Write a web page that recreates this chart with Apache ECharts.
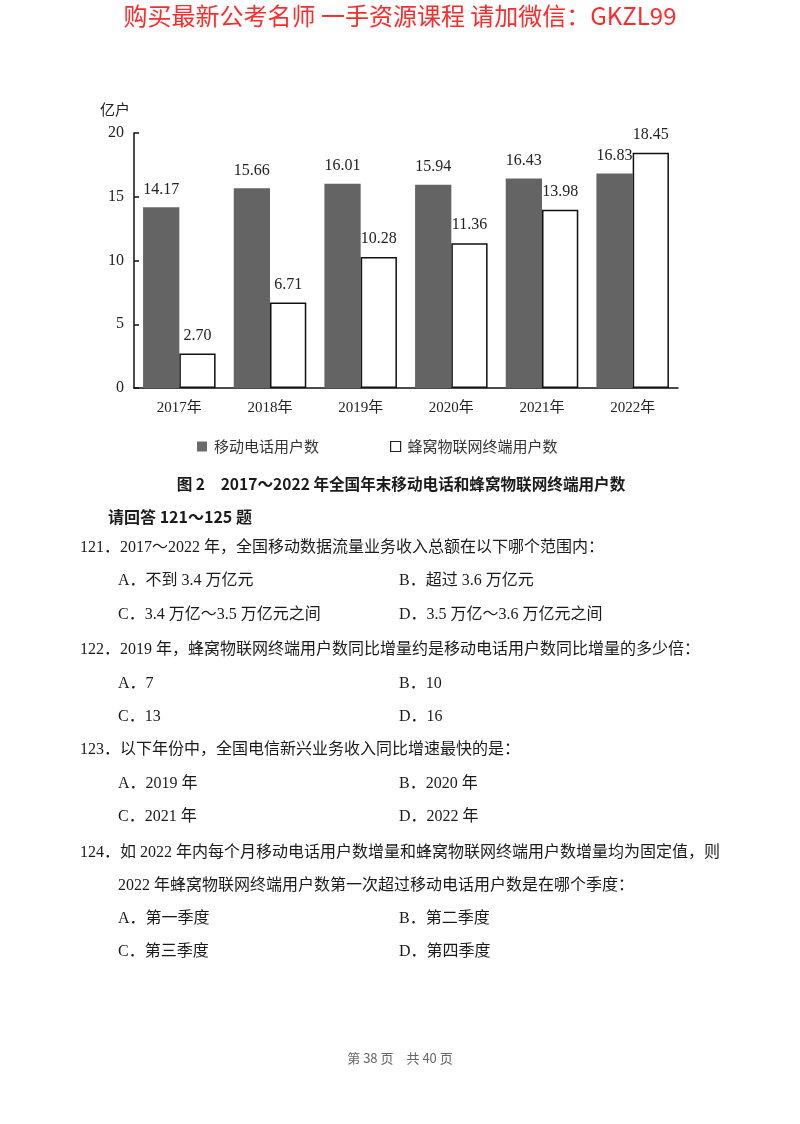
<!DOCTYPE html>
<html>
<head>
<meta charset="utf-8">
<script src="https://cdn.jsdelivr.net/npm/echarts@6/dist/echarts.min.js"></script>
<style>
  html, body { margin: 0; padding: 0; background: #fff; }
  #page { position: relative; width: 800px; height: 1124px; overflow: hidden; background: #fff; }
  #chart { position: absolute; left: 0; top: 0; width: 800px; height: 1124px; }
  .t { position: absolute; white-space: nowrap; font-family: "Liberation Serif", "Noto Sans CJK SC", serif; font-size: 16px; line-height: 20px; color: #1a1a1a; z-index: 2; }
  .b { font-family: "Noto Sans CJK SC", sans-serif; font-weight: bold; }
  .cap { font-size: 15.6px; }
  .wm { font-family: "Noto Sans CJK SC", sans-serif; font-size: 24px; line-height: 30px; color: #ff2a2a; }
  .ft { font-family: "Noto Sans CJK SC", sans-serif; font-size: 13px; line-height: 16px; color: #666; }
</style>
</head>
<body>
<div id="page">
  <div id="chart"></div>
  <div class="t wm" style="left:0;width:800px;text-align:center;top:0px;">购买最新公考名师 一手资源课程 请加微信：GKZL99</div>

  <div class="t b cap" style="left:0;width:802px;text-align:center;top:473px;">图 2　2017～2022 年全国年末移动电话和蜂窝物联网终端用户数</div>
  <div class="t b" style="left:108px;top:506px;">请回答 121～125 题</div>

  <div class="t" style="left:80px;top:537px;">121．2017～2022 年，全国移动数据流量业务收入总额在以下哪个范围内：</div>
  <div class="t" style="left:118px;top:570px;">A．不到 3.4 万亿元</div>
  <div class="t" style="left:399px;top:570px;">B．超过 3.6 万亿元</div>
  <div class="t" style="left:118px;top:604px;">C．3.4 万亿～3.5 万亿元之间</div>
  <div class="t" style="left:399px;top:604px;">D．3.5 万亿～3.6 万亿元之间</div>

  <div class="t" style="left:80px;top:639px;">122．2019 年，蜂窝物联网终端用户数同比增量约是移动电话用户数同比增量的多少倍：</div>
  <div class="t" style="left:118px;top:673px;">A．7</div>
  <div class="t" style="left:399px;top:673px;">B．10</div>
  <div class="t" style="left:118px;top:706px;">C．13</div>
  <div class="t" style="left:399px;top:706px;">D．16</div>

  <div class="t" style="left:80px;top:739px;">123．以下年份中，全国电信新兴业务收入同比增速最快的是：</div>
  <div class="t" style="left:118px;top:773px;">A．2019 年</div>
  <div class="t" style="left:399px;top:773px;">B．2020 年</div>
  <div class="t" style="left:118px;top:806px;">C．2021 年</div>
  <div class="t" style="left:399px;top:806px;">D．2022 年</div>

  <div class="t" style="left:80px;top:842px;">124．如 2022 年内每个月移动电话用户数增量和蜂窝物联网终端用户数增量均为固定值，则</div>
  <div class="t" style="left:118px;top:875px;">2022 年蜂窝物联网终端用户数第一次超过移动电话用户数是在哪个季度：</div>
  <div class="t" style="left:118px;top:908px;">A．第一季度</div>
  <div class="t" style="left:399px;top:908px;">B．第二季度</div>
  <div class="t" style="left:118px;top:941px;">C．第三季度</div>
  <div class="t" style="left:399px;top:941px;">D．第四季度</div>

  <div class="t ft" style="left:0;width:800px;text-align:center;top:1050px;">第 38 页　共 40 页</div>
</div>
<script>
const categories = ['2017年', '2018年', '2019年', '2020年', '2021年', '2022年'];
const mobileUsers = [14.17, 15.66, 16.01, 15.94, 16.43, 16.83];
const iotUsers = [2.70, 6.71, 10.28, 11.36, 13.98, 18.45];
const seriesNames = ['移动电话用户数', '蜂窝物联网终端用户数'];
const yUnit = '亿户';

const serifFont = '"Liberation Serif", "Noto Sans CJK SC", serif';
const cjkFont = '"Noto Sans CJK SC", sans-serif';

const chart = echarts.init(document.getElementById('chart'), null, { renderer: 'canvas' });
const labelCfg = {
  show: true,
  position: 'top',
  distance: 10,
  color: '#222',
  fontFamily: serifFont,
  fontSize: 16,
  formatter: p => p.value.toFixed(2)
};
chart.setOption({
  animation: false,
  backgroundColor: 'transparent',
  grid: { left: 134, right: 122, top: 133, bottom: 736 },
  legend: {
    left: 197,
    top: 439,
    padding: 0,
    itemWidth: 10,
    itemHeight: 10,
    itemGap: 71,
    textStyle: { fontFamily: cjkFont, fontSize: 15, color: '#333', padding: [0, 0, 0, 2] },
    data: [
      { name: seriesNames[0], icon: 'rect', itemStyle: { color: '#6a6a6a', borderWidth: 0 } },
      { name: seriesNames[1], icon: 'rect', itemStyle: { color: '#fff', borderColor: '#222', borderWidth: 1.2 } }
    ]
  },
  xAxis: {
    type: 'category',
    data: categories,
    axisLine: { lineStyle: { color: '#111', width: 1.5 } },
    axisTick: { show: false },
    axisLabel: { color: '#222', fontFamily: serifFont, fontSize: 15, margin: 13 }
  },
  yAxis: {
    type: 'value',
    min: 0,
    max: 20,
    interval: 5,
    name: yUnit,
    nameLocation: 'end',
    nameGap: 16,
    nameTextStyle: { fontFamily: cjkFont, fontSize: 15, color: '#222', align: 'right', padding: [0, 4, 0, 0] },
    axisLine: { show: true, lineStyle: { color: '#111', width: 1.5 } },
    axisTick: { show: true, inside: true, length: 5, lineStyle: { color: '#111', width: 1.5 } },
    splitLine: { show: false },
    axisLabel: { color: '#222', fontFamily: serifFont, fontSize: 16, margin: 10 }
  },
  series: [
    {
      name: seriesNames[0],
      type: 'bar',
      data: mobileUsers,
      barGap: '0%',
      barCategoryGap: '20%',
      itemStyle: { color: '#646464' },
      label: labelCfg
    },
    {
      name: seriesNames[1],
      type: 'bar',
      data: iotUsers,
      barGap: '0%',
      barCategoryGap: '20%',
      itemStyle: { color: '#fff', borderColor: '#111', borderWidth: 1.5 },
      label: labelCfg
    }
  ]
});
</script>
</body>
</html>
